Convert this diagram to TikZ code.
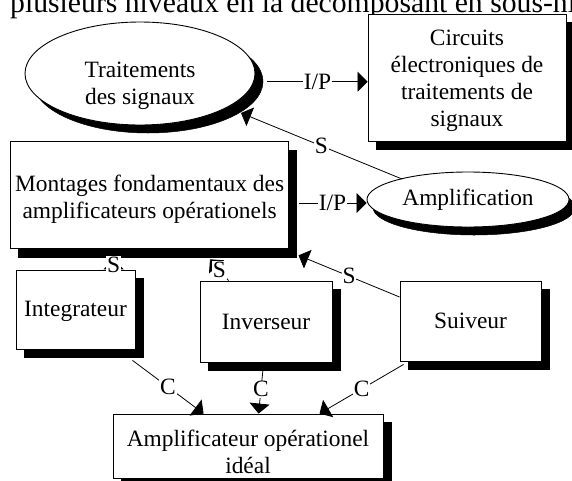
\documentclass[tikz,border=0pt]{standalone}
\usepackage{fontspec}
\setmainfont{Liberation Serif}
\usetikzlibrary{shapes.geometric,arrows.meta,calc}
\newcommand\dfs{\fontsize{23.4}{27}\selectfont}
\newcommand\tfs{\fontsize{29.7}{34}\selectfont}
\tikzset{
  base/.style={draw=black, line width=0.9pt, fill=white, inner sep=0pt},
  rbox/.style={base, rectangle},
  ell/.style={base, ellipse},
  shbox/.style={draw=black, fill=black, line width=0.5pt, inner sep=0pt, rectangle},
  shell/.style={draw=black, fill=black, line width=0.5pt, inner sep=0pt, ellipse},
  txt/.style={font=\dfs, align=center, inner sep=0pt},
  arr/.style={-{Triangle[length=10pt,width=20pt]}, line width=0.8pt},
  lab/.style={fill=white, inner sep=0.8pt, font=\dfs},
}
\begin{document}
\begin{tikzpicture}[x=1pt,y=-1pt]
\useasboundingbox (0,0) rectangle (572,480);
% partially visible heading text
\node[anchor=base west, inner sep=0pt, font=\tfs] (head) at (10,12.7) {plusieurs niveaux en la décomposant en sous-ni};
% centres
\coordinate (pTrait) at (140,73.5);
\coordinate (pCirc) at (467,78.2);
\coordinate (pMont) at (149.6,195.4);
\coordinate (pAmpl) at (468,199.5);
\coordinate (pInteg) at (75.5,309.7);
\coordinate (pInv) at (266,321.5);
\coordinate (pSuiv) at (470.5,321);
\coordinate (pAop) at (248,446);
% drop shadows
\node[shell, minimum width=230pt, minimum height=103pt] (traitS) at ($(pTrait)+(8,8)$) {};
\node[shbox, minimum width=198pt, minimum height=127pt] (circS) at ($(pCirc)+(8,8)$) {};
\node[shbox, minimum width=278pt, minimum height=107pt] (montS) at ($(pMont)+(8,8)$) {};
\node[shell, minimum width=202pt, minimum height=55pt] (amplS) at ($(pAmpl)+(6,8)$) {};
\node[shbox, minimum width=119pt, minimum height=79pt] (integS) at ($(pInteg)+(8,8)$) {};
\node[shbox, minimum width=132pt, minimum height=81pt] (invS) at ($(pInv)+(8,8)$) {};
\node[shbox, minimum width=141pt, minimum height=80pt] (suivS) at ($(pSuiv)+(8,8)$) {};
\node[shbox, minimum width=270pt, minimum height=64pt] (aopS) at ($(pAop)+(8,8)$) {};
% shapes
\node[ell, minimum width=230pt, minimum height=103pt] (trait) at (pTrait) {};
\node[rbox, minimum width=198pt, minimum height=127pt] (circ) at (pCirc) {};
\node[rbox, minimum width=278pt, minimum height=107pt] (mont) at (pMont) {};
\node[ell, minimum width=202pt, minimum height=55pt] (ampl) at (pAmpl) {};
\node[rbox, minimum width=119pt, minimum height=79pt] (integ) at (pInteg) {};
\node[rbox, minimum width=132pt, minimum height=81pt] (inv) at (pInv) {};
\node[rbox, minimum width=141pt, minimum height=80pt] (suiv) at (pSuiv) {};
\node[rbox, minimum width=270pt, minimum height=64pt] (aop) at (pAop) {};
% texts
\node[txt] (traitT) at ($(trait.center)+(0,12)$) {Traitements\\des signaux};
\node[txt] (circT) at ($(circ.center)+(0,3)$) {Circuits\\électroniques de\\traitements de\\signaux};
\node[txt] (montT) at ($(mont.center)+(0,4)$) {Montages fondamentaux des\\amplificateurs opérationels};
\node[txt] (amplT) at (ampl.center) {Amplification};
\node[txt] (integT) at ($(integ.center)+(0,2)$) {Integrateur};
\node[txt] (invT) at (inv.center) {Inverseur};
\node[txt] (suivT) at (suiv.center) {Suiveur};
\node[txt] (aopT) at ($(aop.center)+(0,6)$) {Amplificateur opérationel\\idéal};
% connectors
\coordinate (a1) at ($(trait.east)+(12,8.2)$);
\draw[arr] (a1) -- (a1 -| circ.west) node[lab, midway] {I/P};
\coordinate (a2) at ($(mont.east)+(9.5,7.6)$);
\draw[arr] (a2) -- (a2 -| ampl.west) node[lab, midway] {I/P};
\draw[arr] ($(ampl.center)+(-66,-20.5)$) -- ($(trait.center)+(101,39.5)$) node[lab, midway] {S};
\coordinate (a4) at ($(integ.north west)+(98,0)$);
\draw[arr] (a4) -- ($(a4 |- mont.south)+(0,10)$) node[lab, midway] {S};
\draw[arr] ($(inv.north west)+(29,0)$) -- ($(mont.south)+(60.4,10)$) node[lab, midway] {S};
\draw[arr] ($(suiv.west)+(0,-24)$) -- ($(mont.south east)+(9.5,6)$) node[lab, midway] {S};
\draw[arr] ($(integ.south east)+(-3,10.7)$) -- ($(aop.north west)+(91,0)$) node[lab, midway] {C};
\draw[arr] ($(inv.south)+(-3,7)$) -- ($(aop.north west)+(146,0)$) node[lab, pos=0.45] {C};
\draw[arr] ($(suiv.south west)+(4,3)$) -- ($(aop.north west)+(207,0)$) node[lab, midway] {C};
\end{tikzpicture}
\end{document}
